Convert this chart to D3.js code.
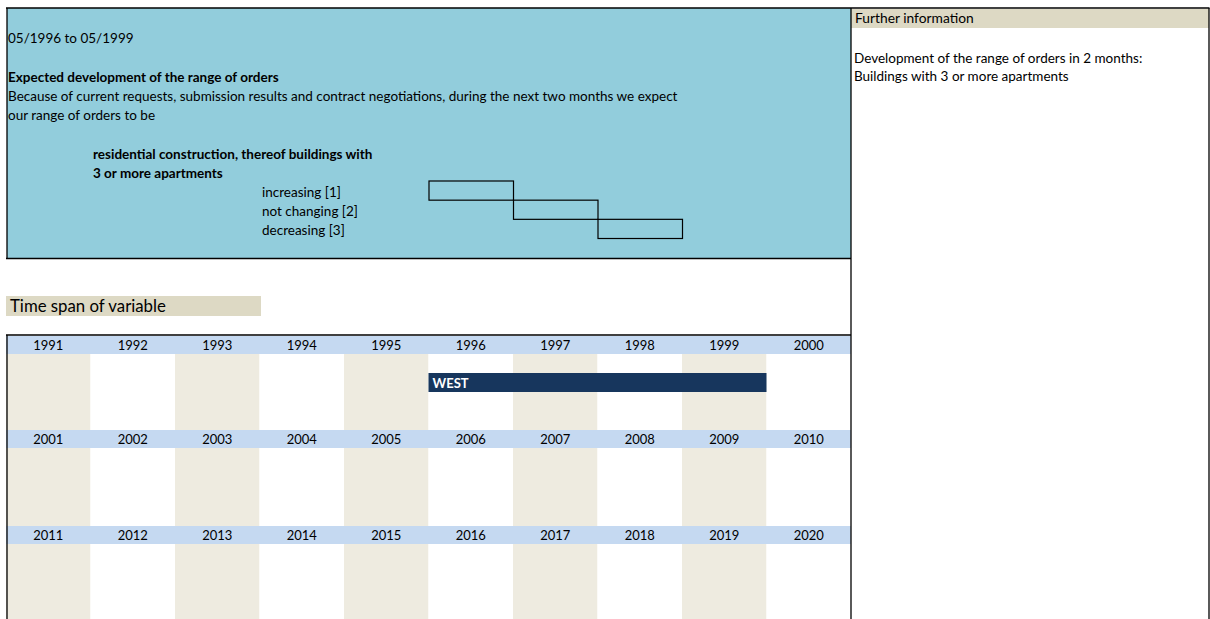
<!DOCTYPE html>
<html>
<head>
<meta charset="utf-8">
<script src="https://cdn.jsdelivr.net/npm/d3@7"></script>
<style>
  html, body { margin: 0; padding: 0; background: #fff; }
  svg { display: block; font-family: Lato, "Open Sans", "Noto Sans", sans-serif; }
</style>
</head>
<body>
<div id="chart"></div>
<script>
// ---- data ----
const yearRows = [
  [1991, 1992, 1993, 1994, 1995, 1996, 1997, 1998, 1999, 2000],
  [2001, 2002, 2003, 2004, 2005, 2006, 2007, 2008, 2009, 2010],
  [2011, 2012, 2013, 2014, 2015, 2016, 2017, 2018, 2019, 2020]
];
const spans = [ { label: "WEST", start: 1996, end: 1999 } ];
const periodText = "05/1996 to 05/1999";
const questionTitle = "Expected development of the range of orders";
const questionLines = [
  "Because of current requests, submission results and contract negotiations, during the next two months we expect",
  "our range of orders to be"
];
const subjectLines = ["residential construction, thereof buildings with", "3 or more apartments"];
const answerOptions = ["increasing [1]", "not changing [2]", "decreasing [3]"];
const infoTitle = "Further information";
const infoLines = ["Development of the range of orders in 2 months:", "Buildings with 3 or more apartments"];
const timeSpanTitle = "Time span of variable";

// ---- layout ----
const W = 1210, H = 619;
const svg = d3.select("#chart").append("svg").attr("width", W).attr("height", H);

const gridLeft = 6, gridRight = 851;
const colorPanel = "#92cddc", colorBeige = "#ddd9c4", colorHead = "#c5d9f1",
      colorStripe = "#eeebe0", colorBar = "#17365d";

// blue question panel
svg.append("rect").attr("x", 7).attr("y", 8).attr("width", gridRight - 7).attr("height", 250)
  .attr("fill", colorPanel);

// right info header
svg.append("rect").attr("x", gridRight).attr("y", 9).attr("width", 1209 - gridRight).attr("height", 19)
  .attr("fill", colorBeige);

const FS = 13.5;
const txt = (x, y, s, opts = {}) => svg.append("text").attr("x", x).attr("y", y)
  .attr("font-size", opts.size || FS).attr("font-weight", opts.bold ? "bold" : "normal")
  .attr("fill", opts.fill || "#000").attr("text-anchor", opts.anchor || "start").text(s);

txt(8, 43, periodText);
txt(8, 81.5, questionTitle, { bold: true });
questionLines.forEach((s, i) => txt(8, 100.5 + i * 19, s));
subjectLines.forEach((s, i) => txt(93, 158.5 + i * 19, s, { bold: true }));

// answer options and their staircase of boxes
const optY = d3.scaleBand().domain(answerOptions).range([181, 238.5]).padding(0);
const optX = d3.scaleBand().domain(answerOptions).range([429, 682.5]).padding(0);
answerOptions.forEach(s => txt(262, optY(s) + 15.5, s));
svg.append("g").selectAll("rect").data(answerOptions).join("rect")
  .attr("x", d => optX(d)).attr("y", d => optY(d))
  .attr("width", optX.bandwidth()).attr("height", optY.bandwidth())
  .attr("fill", "none").attr("stroke", "#000").attr("stroke-width", 1.2);

// info text
txt(855, 23, infoTitle, { size: 13.8 });
infoLines.forEach((s, i) => txt(854, 62.5 + i * 18, s));

// time span title
svg.append("rect").attr("x", 6).attr("y", 296).attr("width", 255).attr("height", 20).attr("fill", colorBeige);
txt(10, 312, timeSpanTitle, { size: 16.8 });

// ---- timeline grid ----
const x = d3.scaleBand().domain(d3.range(10)).range([gridLeft, gridRight]).padding(0);
const rowTops = [336, 430, 526];
const headH = 18;
const rowH = d3.scaleOrdinal().domain([0, 1, 2]).range([94, 96, 100]);

yearRows.forEach((years, r) => {
  const g = svg.append("g");
  const top = rowTops[r];
  // stripes
  g.selectAll("rect.stripe").data(years).join("rect").attr("class", "stripe")
    .attr("x", (d, i) => x(i)).attr("y", top + headH)
    .attr("width", x.bandwidth()).attr("height", rowH(r) - headH)
    .attr("fill", (d, i) => i % 2 === 0 ? colorStripe : "#fff");
  // header
  g.append("rect").attr("x", gridLeft).attr("y", top).attr("width", gridRight - gridLeft).attr("height", headH)
    .attr("fill", colorHead);
  g.selectAll("text").data(years).join("text")
    .attr("x", (d, i) => x(i) + x.bandwidth() / 2).attr("y", top + 14)
    .attr("text-anchor", "middle").attr("font-size", 13).text(d => d);
  // spans
  spans.forEach(sp => {
    const i0 = years.indexOf(sp.start), i1 = years.indexOf(sp.end);
    if (i0 < 0 || i1 < 0) return;
    g.append("rect").attr("x", x(i0)).attr("y", top + 37)
      .attr("width", x(i1) + x.bandwidth() - x(i0)).attr("height", 19).attr("fill", colorBar);
    g.append("text").attr("x", x(i0) + 4).attr("y", top + 51.5)
      .attr("font-size", 13).attr("font-weight", "bold").attr("fill", "#fff").text(sp.label);
  });
});

// ---- frame lines ----
const line = (x1, y1, x2, y2) => svg.append("line").attr("x1", x1).attr("y1", y1).attr("x2", x2).attr("y2", y2)
  .attr("stroke", "#000").attr("stroke-width", 1.3);
line(6, 8, 1209.5, 8);
line(1209, 8, 1209, H);
line(gridRight, 8, gridRight, H);
line(7, 8, 7, 258.5);
line(6, 258.5, gridRight, 258.5);
line(6, 335, gridRight, 335);
line(7, 335, 7, H);
</script>
</body>
</html>
